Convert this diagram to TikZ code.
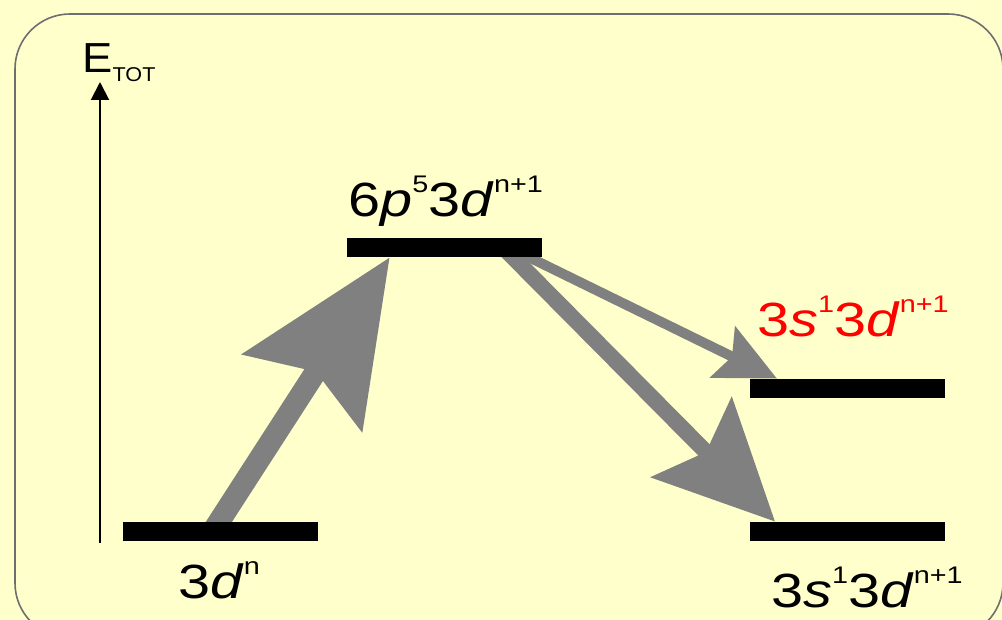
\documentclass[tikz,border=0pt]{standalone}
\usepackage{fontspec}
\usepackage{graphicx}
\setmainfont{Liberation Sans}
\usetikzlibrary{arrows.meta, positioning, calc}
\definecolor{slidebg}{HTML}{FFFFCC}
\definecolor{slideframe}{HTML}{6E6E6E}
\definecolor{transgray}{HTML}{808080}
\definecolor{levelred}{HTML}{FF0000}
\newcommand{\supr}[1]{\raisebox{12pt}{\fontsize{12}{12}\selectfont #1}}
\newcommand{\wide}[1]{\scalebox{1.2}[1]{#1}}
\pgfdeclarelayer{bg}
\pgfdeclarelayer{transitions}
\pgfsetlayers{bg,transitions,main}

\begin{document}
\begin{tikzpicture}[x=0.5pt, y=-0.5pt, >=Latex,
    level/.style={fill=black, inner sep=0pt, minimum width=97.5pt, minimum height=9.5pt},
    term/.style={inner sep=0pt, anchor=base west, font=\fontsize{24}{24}\selectfont},
    trans/.style={transgray, line cap=butt}]
  \useasboundingbox (0,0) rectangle (1002,620);
  \begin{pgfonlayer}{bg}
    \fill[slidebg] (0,0) rectangle (1002,620);
    \clip (0,0) rectangle (1002,620);
    \draw[slideframe, line width=0.8pt, rounded corners=27.5pt] (15,14) rectangle (1003,638);
  \end{pgfonlayer}

  % energy axis
  \coordinate (axisbot) at (100,543);
  \coordinate (axistop) at (100,82);
  \draw[line width=1pt, -{Triangle[length=9pt, width=9pt]}] (axisbot) -- (axistop);
  \node[inner sep=0pt, anchor=base west, font=\fontsize{21}{21}\selectfont] (etot) at (82,73)
    {\scalebox{1.08}[1]{E\raisebox{-4.5pt}{\fontsize{10}{10}\selectfont TOT}}};

  % levels
  \node[level] (ground) at (220.5,531.5) {};
  \node[level] (upper) at (444.5,247.5) {};
  \node[level] (mid) at (847.5,388.5) {};
  \node[level] (low) at (847.5,531.5) {};

  \node[term] (lblground) at (178,598) {\wide{3\textit{d}\supr{n}}};
  \node[term] (lblupper) at (348,217) {\wide{6\textit{p}\supr{5}3\textit{d}\supr{n+1}}};
  \node[term, levelred] (lblmid) at (757,336) {\wide{3\textit{s}\supr{1}3\textit{d}\supr{n+1}}};
  \node[term] (lbllow) at (771,607) {\wide{3\textit{s}\supr{1}3\textit{d}\supr{n+1}}};

  % transitions
  \begin{pgfonlayer}{transitions}
    \draw[trans, line width=11pt, -{Stealth[length=80pt, width=70pt, inset=12pt]}]
      ($(ground.west)!0.46!(ground.east)$) -- ($(upper.south west)!0.22!(upper.south east)$);
    \draw[trans, line width=8pt, -{Stealth[length=59pt, width=56pt, inset=10pt]}]
      ($(upper.west)!0.80!(upper.east)$) -- ($(low.north west)!0.13!(low.north east)$);
    \draw[trans, line width=5pt, -{Stealth[length=30pt, width=28pt, inset=5pt]}]
      ($(upper.west)!0.83!(upper.east)$) -- ($(mid.north west)!0.14!(mid.north east)$);
  \end{pgfonlayer}
\end{tikzpicture}
\end{document}
